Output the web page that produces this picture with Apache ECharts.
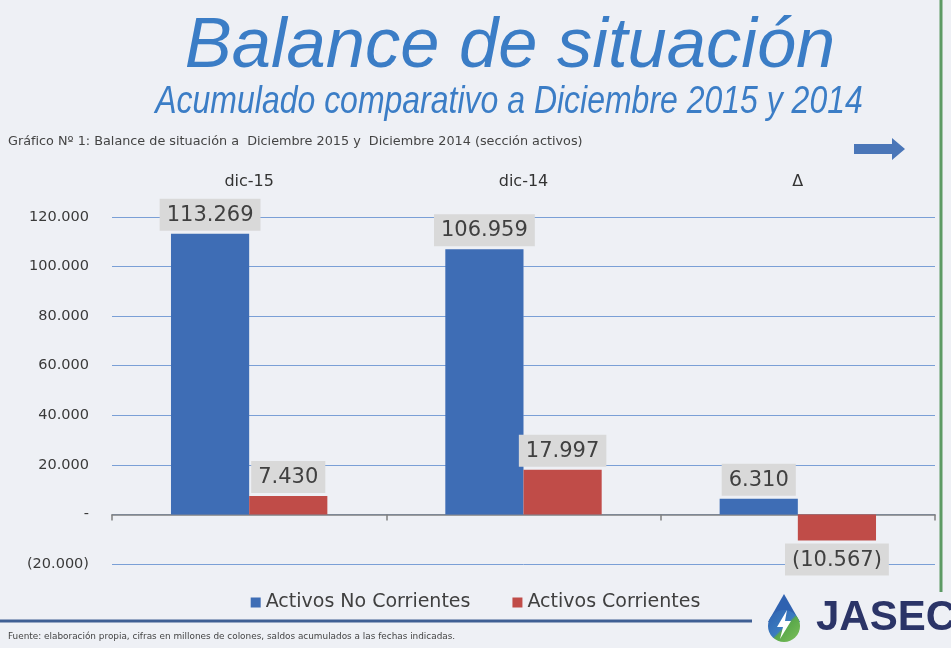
<!DOCTYPE html>
<html lang="es">
<head>
    <meta charset="UTF-8">
    <title>Balance de situación</title>
    <script src="https://cdn.jsdelivr.net/npm/echarts@6/dist/echarts.min.js"></script>
    <style>
        html, body { margin: 0; padding: 0; background: #eef0f5; }
        #main { width: 951px; height: 648px; }
    </style>
</head>
<body>
    <div id="main"></div>
    <script>
        // datos del gráfico
        var categorias = ['dic-15', 'dic-14', '\u0394'];
        var activosNoCorrientes = [113269, 106959, 6310];
        var activosCorrientes = [7430, 17997, -10567];
        var nombresSeries = ['Activos No Corrientes', 'Activos Corrientes'];
        var ejeMin = -20000, ejeMax = 120000, ejeIntervalo = 20000;

        function miles(v) {
            var s = Math.abs(v).toString().replace(/\B(?=(\d{3})+(?!\d))/g, '.');
            if (v === 0) return '-';
            return v < 0 ? '(' + s + ')' : s;
        }

        var myChart = echarts.init(document.getElementById('main'));

        var etiqueta = {
            show: true,
            position: 'top',
            distance: 3,
            formatter: function (p) { return miles(p.value); },
            fontFamily: 'DejaVu Sans',
            fontSize: 21,
            color: '#404040',
            backgroundColor: '#d9d9d9',
            padding: [6, 7, 5, 7]
        };

        var datosCorrientes = activosCorrientes.map(function (v) {
            return v < 0 ? { value: v, label: { position: 'bottom' } } : v;
        });

        var option = {
            backgroundColor: '#eef0f5',
            animation: false,
            grid: { left: 112, right: 16, top: 217, bottom: 84 },
            legend: {
                data: nombresSeries,
                top: 588,
                left: 'center',
                icon: 'rect',
                itemWidth: 10,
                itemHeight: 10,
                itemGap: 42,
                textStyle: { fontFamily: 'DejaVu Sans', fontSize: 19, color: '#404040' }
            },
            xAxis: [{
                type: 'category',
                data: categorias,
                axisLine: { lineStyle: { color: '#808080', width: 1.5 } },
                axisTick: { show: true, length: 6, lineStyle: { color: '#808080', width: 1.5 } },
                axisLabel: { show: false }
            }, {
                type: 'category',
                data: categorias,
                position: 'top',
                axisLine: { show: false },
                axisTick: { show: false },
                axisLabel: { margin: 27, fontFamily: 'DejaVu Sans', fontSize: 16, color: '#333' }
            }],
            yAxis: {
                type: 'value',
                min: ejeMin,
                max: ejeMax,
                interval: ejeIntervalo,
                axisLine: { show: false },
                axisTick: { show: false },
                splitLine: { lineStyle: { color: '#7a9fd6', width: 1 } },
                axisLabel: {
                    margin: 23,
                    formatter: miles,
                    fontFamily: 'DejaVu Sans',
                    fontSize: 14.5,
                    color: '#3a3a3a'
                }
            },
            series: [{
                name: nombresSeries[0],
                type: 'bar',
                data: activosNoCorrientes,
                barGap: '0%',
                barCategoryGap: '43%',
                itemStyle: { color: '#3e6db5' },
                label: etiqueta
            }, {
                name: nombresSeries[1],
                type: 'bar',
                data: datosCorrientes,
                itemStyle: { color: '#c04c48' },
                label: etiqueta
            }],
            graphic: [{
                type: 'text', x: 510, y: 47,
                style: {
                    text: 'Balance de situación', fill: '#3b7dc6',
                    font: 'italic 70.5px "Liberation Sans", Arial',
                    textAlign: 'center', textVerticalAlign: 'middle'
                }
            }, {
                type: 'text', x: 509, y: 102, scaleX: 0.82,
                style: {
                    text: 'Acumulado comparativo a Diciembre 2015 y 2014', fill: '#3b7dc6',
                    font: 'italic 39px "Liberation Sans", Arial',
                    textAlign: 'center', textVerticalAlign: 'middle'
                }
            }, {
                type: 'text', x: 8, y: 142,
                style: {
                    text: 'Gráfico Nº 1: Balance de situación a  Diciembre 2015 y  Diciembre 2014 (sección activos)',
                    fill: '#444', font: '12.8px "DejaVu Sans"', textVerticalAlign: 'middle'
                }
            }, {
                type: 'polygon',
                shape: { points: [[854, 144], [892, 144], [892, 138], [905, 149], [892, 160], [892, 154], [854, 154]] },
                style: { fill: '#4a76b8' }
            }, {
                type: 'line',
                shape: { x1: 941, y1: 0, x2: 941, y2: 592 },
                style: { stroke: '#5c9a64', lineWidth: 3 }
            }, {
                type: 'line',
                shape: { x1: 0, y1: 621, x2: 752, y2: 621 },
                style: { stroke: '#3f5f94', lineWidth: 3 }
            }, {
                type: 'text', x: 8, y: 637,
                style: {
                    text: 'Fuente: elaboración propia, cifras en millones de colones, saldos acumulados a las fechas indicadas.',
                    fill: '#444', font: '8.9px "DejaVu Sans"', textVerticalAlign: 'middle'
                }
            }, {
                // logo JASEC: gota azul/verde
                type: 'polygon',
                shape: { points: [[784, 594], [768, 622], [800, 622]] },
                style: { fill: '#2f62b0' }
            }, {
                type: 'circle',
                shape: { cx: 784, cy: 626, r: 16 },
                style: {
                    fill: {
                        type: 'linear', x: 0, y: 0, x2: 1, y2: 1,
                        colorStops: [
                            { offset: 0, color: '#2f62b0' },
                            { offset: 0.5, color: '#3b7cc0' },
                            { offset: 0.55, color: '#5aa84a' },
                            { offset: 1, color: '#7cc05a' }
                        ]
                    }
                }
            }, {
                type: 'polygon',
                shape: { points: [[787, 610], [777, 627], [783, 627], [780, 639], [791, 621], [785, 621]] },
                style: { fill: '#ffffff' }
            }, {
                type: 'text', x: 816, y: 618,
                style: {
                    text: 'JASEC', fill: '#2b3467',
                    font: 'bold 42px "Liberation Sans", Arial',
                    textVerticalAlign: 'middle'
                }
            }]
        };

        myChart.setOption(option);
    </script>
</body>
</html>
